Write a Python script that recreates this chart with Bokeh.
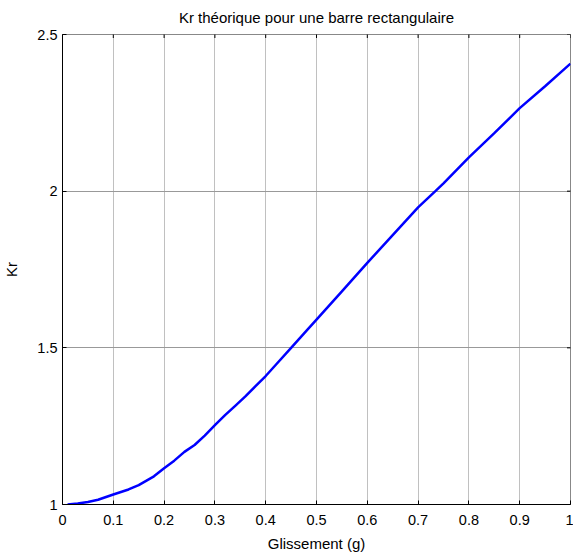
import math
from bokeh.plotting import figure
from bokeh.models import Range1d, FixedTicker, Title
from bokeh.embed import file_html
from bokeh.resources import INLINE

# Data
glissement = [0.01, 0.03, 0.05, 0.07, 0.10, 0.13, 0.15, 0.18, 0.20, 0.22, 0.24, 0.26,
              0.28, 0.30, 0.32, 0.34, 0.36, 0.38, 0.40, 0.42, 0.45, 0.48, 0.50, 0.55,
              0.60, 0.65, 0.70, 0.734, 0.75, 0.80, 0.85, 0.90, 0.95, 1.00]
kr = [1.000, 1.003, 1.008, 1.015, 1.032, 1.048, 1.062, 1.090, 1.116, 1.140, 1.168, 1.190,
      1.220, 1.253, 1.285, 1.315, 1.345, 1.378, 1.410, 1.446, 1.500, 1.554, 1.590, 1.680,
      1.771, 1.860, 1.948, 2.000, 2.025, 2.108, 2.185, 2.265, 2.335, 2.407]
x_ticks = [0, 0.1, 0.2, 0.3, 0.4, 0.5, 0.6, 0.7, 0.8, 0.9, 1]
y_ticks = [1, 1.5, 2, 2.5]
x_labels = {0: "0", 0.1: "0.1", 0.2: "0.2", 0.3: "0.3", 0.4: "0.4", 0.5: "0.5",
            0.6: "0.6", 0.7: "0.7", 0.8: "0.8", 0.9: "0.9", 1: "1"}
y_labels = {1: "1", 1.5: "1.5", 2: "2", 2.5: "2.5"}
title_text = "Kr théorique pour une barre rectangulaire"

FONT = "Liberation Sans"

p = figure(width=573, height=557, output_backend="svg", toolbar_location=None,
           x_range=Range1d(x_ticks[0], x_ticks[-1]), y_range=Range1d(y_ticks[0], y_ticks[-1]),
           min_border_left=60, min_border_right=3, min_border_top=34, min_border_bottom=53,
           x_axis_label="Glissement (g)", y_axis_label="Kr")
p.background_fill_color = "white"
p.border_fill_color = "white"
p.outline_line_color = "#888888"
p.outline_line_width = 1

p.title.text = title_text
p.title.align = "center"
p.title.text_font = FONT
p.title.text_font_size = "15px"
p.title.text_font_style = "normal"
p.title.text_color = "black"
p.title.standoff = 0

# small empty spacer between title and box, so the title sits higher
p.add_layout(Title(text=" ", text_font_size="7px", standoff=0), "above")

for ax, ticks, labels in ((p.xaxis[0], x_ticks, x_labels), (p.yaxis[0], y_ticks, y_labels)):
    ax.ticker = FixedTicker(ticks=ticks)
    ax.major_label_overrides = labels
    ax.major_tick_in = 4
    ax.major_tick_out = 0
    ax.minor_tick_line_color = None
    ax.axis_line_color = "black"
    ax.major_tick_line_color = "black"
    ax.major_label_text_font = FONT
    ax.major_label_text_font_size = "14.5px"
    ax.major_label_text_color = "black"
    ax.axis_label_text_font = FONT
    ax.axis_label_text_font_size = "15px"
    ax.axis_label_text_font_style = "normal"
    ax.axis_label_text_color = "black"

p.xaxis[0].major_label_standoff = 10
p.xaxis[0].axis_label_standoff = 7
p.yaxis[0].major_label_standoff = 5
p.yaxis[0].axis_label_standoff = 14

p.xgrid.ticker = FixedTicker(ticks=x_ticks)
p.ygrid.ticker = FixedTicker(ticks=y_ticks)
p.xgrid.grid_line_color = "#808080"
p.xgrid.grid_line_dash = "1 1"
p.ygrid.grid_line_color = "#999999"
p.xgrid.grid_line_width = 1
p.ygrid.grid_line_width = 1

# inward tick marks on the top and right edges of the box
p.scatter(x_ticks, [y_ticks[-1]] * len(x_ticks), marker="dash", size=7, angle=math.pi / 2,
          line_color="black", line_width=1)
p.scatter([x_ticks[-1]] * len(y_ticks), y_ticks, marker="dash", size=7,
          line_color="black", line_width=1)

p.line(glissement, kr, line_color="#0000ff", line_width=2.5)

open("out.html", "w").write(file_html(p, INLINE))
